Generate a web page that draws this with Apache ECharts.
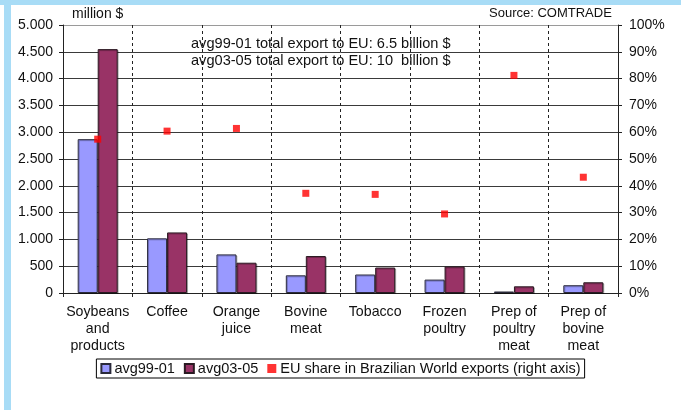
<!DOCTYPE html>
<html>
<head>
<meta charset="utf-8">
<script src="https://cdn.jsdelivr.net/npm/echarts@6/dist/echarts.min.js"></script>
<style>
html,body{margin:0;padding:0;background:#fff;}
#c{width:681px;height:410px;}
</style>
</head>
<body>
<div id="c"></div>
<script>
// ---- data ----
const categories = ['Soybeans\nand\nproducts', 'Coffee', 'Orange\njuice', 'Bovine\nmeat', 'Tobacco', 'Frozen\npoultry', 'Prep of\npoultry\nmeat', 'Prep of\nbovine\nmeat'];
const avg9901 = [2870, 1020, 720, 330, 345, 250, 28, 145];
const avg0305 = [4550, 1130, 565, 690, 475, 495, 125, 200];
const euShare = [0.574, 0.604, 0.614, 0.372, 0.368, 0.295, 0.812, 0.432];
const leftTicks = [0, 500, 1000, 1500, 2000, 2500, 3000, 3500, 4000, 4500, 5000];
const rightTicks = [0, 0.1, 0.2, 0.3, 0.4, 0.5, 0.6, 0.7, 0.8, 0.9, 1.0];
const seriesNames = ['avg99-01', 'avg03-05', 'EU share in Brazilian World exports (right axis)'];
const notes = ['avg99-01 total export to EU: 6.5 billion $', 'avg03-05 total export to EU: 10  billion $'];

function fmtThousands(v) {
  if (v >= 1000) { return Math.floor(v / 1000) + '.' + String(v % 1000).padStart(3, '0'); }
  return String(v);
}

const chart = echarts.init(document.getElementById('c'));
const FONT = 'Liberation Sans, Arial, sans-serif';
const TXT = '#111';

const gridColors = leftTicks.map((t, i) => i === leftTicks.length - 1 ? '#9a9a9a' : '#3a3a3a');

chart.setOption({
  backgroundColor: '#fff',
  animation: false,
  textStyle: { fontFamily: FONT },
  grid: { left: 63, right: 63, top: 25, bottom: 117 },
  graphic: [
    { type: 'rect', shape: { x: 0, y: 0, width: 681, height: 5 }, style: { fill: '#a8dcf6' }, silent: true },
    { type: 'rect', shape: { x: 4, y: 0, width: 7, height: 410 }, style: { fill: '#a8dcf6' }, silent: true },
    { type: 'text', left: 72, top: 7, style: { text: 'million $', font: '14px ' + FONT, fill: TXT } },
    { type: 'text', left: 489, top: 7, style: { text: 'Source: COMTRADE', font: '13px ' + FONT, fill: TXT } },
    { type: 'text', left: 191, top: 35, style: { text: notes.join('\n'), font: '14.6px ' + FONT, lineHeight: 17, fill: TXT } }
  ],
  legend: {
    data: seriesNames.map(n => ({ name: n, icon: 'rect' })),
    left: 'center',
    top: 359,
    itemWidth: 9,
    itemHeight: 9,
    itemGap: 9,
    borderColor: '#000',
    borderWidth: 1,
    padding: [2, 4, 2, 4],
    backgroundColor: '#fff',
    textStyle: { fontSize: 14.5, color: TXT, fontFamily: FONT, padding: [0, 0, 0, -1] }
  },
  xAxis: {
    type: 'category',
    data: categories,
    boundaryGap: true,
    axisLine: { show: true, lineStyle: { color: '#222', width: 1 } },
    axisTick: { show: true, length: 4, interval: 0, lineStyle: { color: '#222' } },
    splitLine: { show: true, interval: 0, lineStyle: { color: '#222', type: [3, 3], width: 1 } },
    axisLabel: { interval: 0, fontSize: 14.2, lineHeight: 17, margin: 11, color: TXT, fontFamily: FONT }
  },
  yAxis: [
    {
      type: 'value', min: 0, max: 5000, interval: 500,
      axisLine: { show: true, lineStyle: { color: '#222' } },
      axisTick: { show: true, length: 4, lineStyle: { color: '#222' } },
      splitLine: { show: true, lineStyle: { color: gridColors, width: 1 } },
      axisLabel: {
        fontSize: 14, margin: 10, color: TXT, fontFamily: FONT,
        customValues: leftTicks,
        formatter: v => fmtThousands(v)
      }
    },
    {
      type: 'value', min: 0, max: 1, interval: 0.1,
      axisLine: { show: true, lineStyle: { color: '#222' } },
      axisTick: { show: true, length: 4, lineStyle: { color: '#222' } },
      splitLine: { show: false },
      axisLabel: {
        fontSize: 14, margin: 11, color: TXT, fontFamily: FONT,
        customValues: rightTicks,
        formatter: v => Math.round(v * 100) + '%'
      }
    }
  ],
  series: [
    {
      name: seriesNames[0], type: 'bar', data: avg9901, barWidth: 20, barGap: '0%',
      itemStyle: { color: '#9999ff', borderColor: '#2a2a3a', borderWidth: 1, shadowColor: 'rgba(0,0,0,0.25)', shadowOffsetX: 1, shadowOffsetY: 1 }
    },
    {
      name: seriesNames[1], type: 'bar', data: avg0305, barWidth: 20, barGap: '0%',
      itemStyle: { color: '#993366', borderColor: '#2a1a22', borderWidth: 1, shadowColor: 'rgba(0,0,0,0.25)', shadowOffsetX: 1, shadowOffsetY: 1 }
    },
    {
      name: seriesNames[2], type: 'scatter', yAxisIndex: 1, data: euShare,
      symbol: 'rect', symbolSize: 7, itemStyle: { color: '#ff0000' }, z: 5
    }
  ]
});
</script>
</body>
</html>
